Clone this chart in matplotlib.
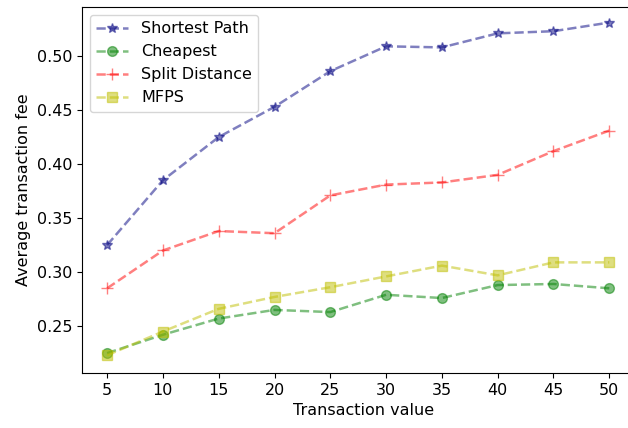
import matplotlib
matplotlib.use("Agg")
import matplotlib.pyplot as plt

# Transaction values on the x axis
tx_values = [5, 10, 15, 20, 25, 30, 35, 40, 45, 50]

# Average fee per routing scheme
shortest_path = [0.325, 0.385, 0.425, 0.453, 0.486, 0.509, 0.508, 0.521, 0.523, 0.531]
cheapest = [0.225, 0.242, 0.257, 0.265, 0.263, 0.279, 0.276, 0.288, 0.289, 0.285]
split_distance = [0.285, 0.320, 0.338, 0.336, 0.371, 0.381, 0.383, 0.390, 0.412, 0.431]
mfps = [0.223, 0.245, 0.266, 0.277, 0.286, 0.296, 0.306, 0.297, 0.309, 0.309]

fig = plt.figure(figsize=(6.28, 4.28), dpi=100)
# right spine falls past the figure edge, as in the cropped original
ax = fig.add_axes([82 / 628, 1 - 373 / 428, (645 - 82) / 628, (373 - 7) / 428])

ax.plot(tx_values, shortest_path, '*--', color='navy', alpha=0.5, lw=1.8, markersize=7, label='Shortest Path')
ax.plot(tx_values, cheapest, 'o--', color='green', alpha=0.5, lw=1.8, markersize=7, label='Cheapest')
ax.plot(tx_values, split_distance, '+--', color='red', alpha=0.5, lw=1.8, markersize=8, label='Split Distance')
ax.plot(tx_values, mfps, 's--', color='y', alpha=0.5, lw=1.8, markersize=7, label='MFPS')

ax.set_xticks(tx_values)
ax.set_xlim(2.75, 53.2)
ax.set_ylim(0.2066, 0.5454)
ax.tick_params(labelsize=11.5)
ax.set_xlabel("Transaction value", fontsize=11.5)
ax.set_ylabel("Average transaction fee", fontsize=11.5)
ax.legend(loc='upper left', fontsize=11.5)

fig.savefig("out.png", dpi=100)
